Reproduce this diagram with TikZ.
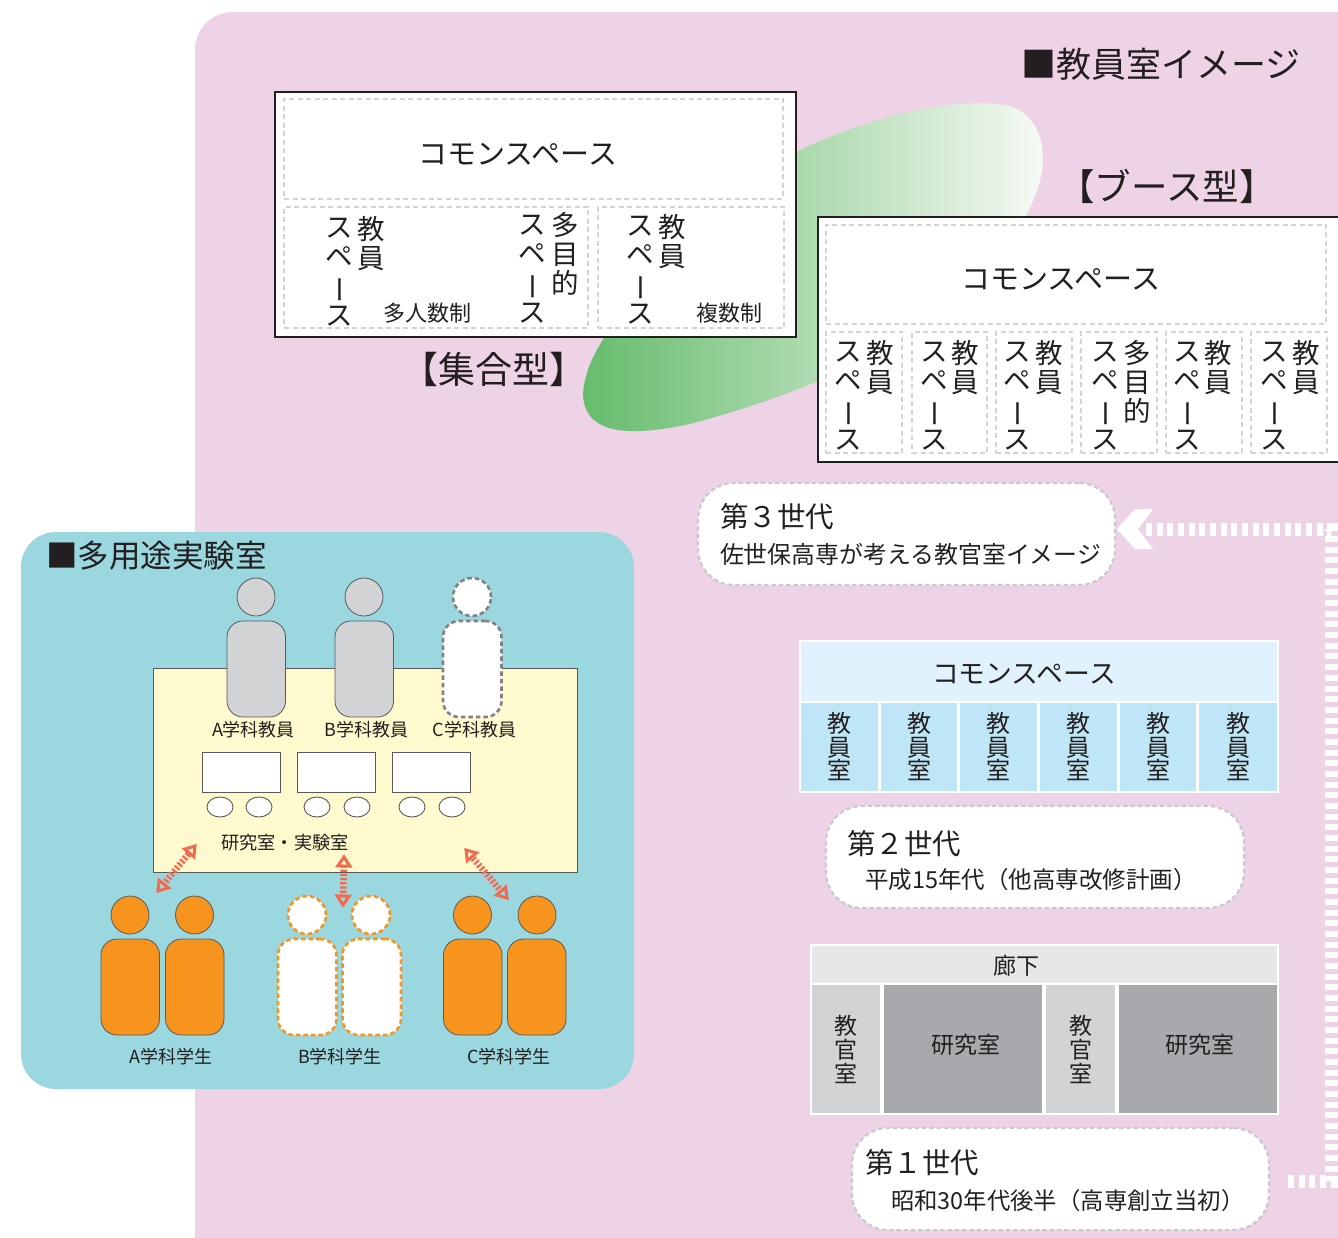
\documentclass[tikz,border=0pt]{standalone}
\usepackage{fontspec}
\usepackage{graphicx}
\usetikzlibrary{calc,shapes.geometric}
\setmainfont{Noto Sans CJK JP}
\newcommand\fz[2]{\fontsize{#1}{#2}\selectfont\lineskiplimit=-100pt\relax}
\newcommand\vbr{\smash{\hspace{.37em}\rotatebox[origin=c]{90}{ー}}}
% box node: name x1 y1 x2 y2 style text
\newcommand\bx[7]{%
  \pgfmathsetmacro\bw{(#4)-(#2)}\pgfmathsetmacro\bh{(#5)-(#3)}%
  \pgfmathsetmacro\bcx{((#2)+(#4))/2}\pgfmathsetmacro\bcy{((#3)+(#5))/2}%
  \node[boxbase,minimum width=\bw pt,minimum height=\bh pt,#6] (#1) at (\bcx,\bcy) {#7};}
\newcommand\person[5]{% name headx heady bodyx1 style
  \node[circle,inner sep=0,outer sep=0,minimum size=38pt,#5] (#1h) at (#2,#3) {};
  \bx{#1b}{#4}{#3+24}{#4+58.5}{#3+120}{rounded corners=16pt,#5}{}}
\newcommand\rtip[2]{%
  \draw[arrowtip] (#1) -- ($($(#1)!9pt!(#2)$)!6pt!90:(#1)$) -- ($($(#1)!9pt!(#2)$)!6pt!-90:(#1)$) -- cycle;}
\tikzset{
  x=1pt,y=-1pt,
  boxbase/.style={inner sep=0,outer sep=0,align=center,text=ink},
  txt/.style={inner sep=0,outer sep=0,text=ink,align=center},
  vt/.style={txt,anchor=north,font=\fz{27.5}{29.3}},
  thick box/.style={draw=ink,line width=2.6pt,fill=white},
  space/.style={draw=dashgray,line width=2.1pt,dash pattern=on 5pt off 3.5pt},
  gen/.style={draw=gendash,line width=2.2pt,dash pattern=on 4.5pt off 2.8pt,fill=white,rounded corners=36pt},
  grayman/.style={draw=personline,line width=.8pt,fill=manfill},
  grayghost/.style={draw=ghostline,line width=2.6pt,dash pattern=on 4.5pt off 3pt,fill=white},
  orangeman/.style={draw=personline,line width=.8pt,fill=orangefill},
  orangeghost/.style={draw=orangefill,line width=2.6pt,dash pattern=on 4.5pt off 3pt,fill=white},
  flowline/.style={draw=white,line width=13pt,dash pattern=on 6pt off 4.67pt},
  redline/.style={draw=redarrow,line width=6.5pt,dash pattern=on 2.2pt off 2pt},
  arrowtip/.style={draw=redarrow,line width=3pt,line join=miter,fill=none},
  desk/.style={draw=personline,line width=.9pt,fill=white},
}
\definecolor{ink}{HTML}{231F20}
\definecolor{pinkbg}{HTML}{EED3E6}
\definecolor{teal}{HTML}{9AD7DF}
\definecolor{cream}{HTML}{FFFACE}
\definecolor{dashgray}{HTML}{D1D3D4}
\definecolor{gendash}{HTML}{C9CACB}
\definecolor{personline}{HTML}{58595B}
\definecolor{manfill}{HTML}{D1D3D4}
\definecolor{ghostline}{HTML}{808285}
\definecolor{orangefill}{HTML}{F7941E}
\definecolor{redarrow}{HTML}{F26A50}
\definecolor{lightblue}{HTML}{E0F3FC}
\definecolor{midblue}{HTML}{BFE6F7}
\definecolor{corr}{HTML}{E6E7E8}
\definecolor{lab}{HTML}{D1D3D4}
\definecolor{res}{HTML}{A7A9AC}
\definecolor{gl}{HTML}{66BC6C}
\definecolor{gr}{HTML}{F8FAF6}
\begin{document}
\begin{tikzpicture}
\useasboundingbox (0,0) rectangle (1338,1238);
\clip (0,0) rectangle (1338,1238);
\fill[white] (0,0) rectangle (1338,1238);
% pink ground
\fill[pinkbg,rounded corners=38pt] (195,12) rectangle (1420,1300);
% green blob
\shade[left color=gl,right color=gr]
  (583,395) .. controls (585,340) and (650,270) .. (800,150)
  .. controls (880,112) and (960,98) .. (1005,105)
  .. controls (1040,112) and (1048,150) .. (1040,180)
  .. controls (1032,215) and (1000,260) .. (960,300)
  .. controls (900,350) and (800,395) .. (690,424)
  .. controls (630,437) and (585,435) .. (583,395) -- cycle;
% title
\node[txt,font=\fz{35}{37}] (title) at (1161,64) {■教員室イメージ};
% gathered type
\bx{gbox}{275}{92}{796}{337}{thick box}{}
\bx{gcommon}{284}{99}{783}{199}{space}{}
\node[txt,font=\fz{29}{30}] (gct) at (518,154) {コモンスペース};
\bx{gleft}{284}{207}{588}{328}{space}{}
\bx{gright}{598}{207}{784}{328}{space}{}
\node[vt] (g1) at (371,216) {教\\員};
\node[vt] (g2) at (339,218) {ス\\ペ\\\vbr\\ス};
\node[vt] (g3) at (565,212) {多\\目\\的};
\node[vt] (g4) at (532,215) {ス\\ペ\\\vbr\\ス};
\node[vt] (g5) at (672,214) {教\\員};
\node[vt] (g6) at (640,216) {ス\\ペ\\\vbr\\ス};
\node[txt,font=\fz{22}{24}] (g7) at (427,313) {多人数制};
\node[txt,font=\fz{22}{24}] (g8) at (729,313) {複数制};
\node[txt,font=\fz{37}{39}] (gname) at (494,369) {【集合型】};
% booth type
\node[txt,font=\fz{36.5}{39}] (bname) at (1167,186) {【ブース型】};
\bx{bbox}{818}{217}{1350}{462}{thick box}{}
\bx{bcommon}{826}{225}{1326}{324}{space}{}
\node[txt,font=\fz{29}{30}] (bct) at (1061,279) {コモンスペース};
\foreach \i/\xa/\xb/\xs in {1/826/902/848,2/912/987/934,3/996/1072/1017,4/1081/1157/1105,5/1166/1242/1187,6/1251/1327/1274}{
  \bx{bc\i}{\xa}{332}{\xb}{453}{space}{}
  \node[vt] (bs\i) at (\xs,342) {ス\\ペ\\\vbr\\ス};
}
\node[vt] (bk1) at (880,340) {教\\員};
\node[vt] (bk2) at (965,340) {教\\員};
\node[vt] (bk3) at (1049,340) {教\\員};
\node[vt] (bk4) at (1137,340) {多\\目\\的};
\node[vt] (bk5) at (1218,340) {教\\員};
\node[vt] (bk6) at (1306,340) {教\\員};
% generation flow
\coordinate (fstart) at (1288,1181.5);
\coordinate (fcorner1) at (1331.5,1181.5);
\coordinate (fcorner2) at (1331.5,529.5);
\coordinate (fend) at (1146,529.5);
\draw[flowline] (fstart) -- (fcorner1) -- (fcorner2) -- (fend);
\fill[white] (1117,529) -- (1135,509) -- (1153,509) -- (1138,529) -- (1153,549) -- (1135,549) -- cycle;
% generation 3
\bx{gen3}{698}{483}{1115}{585}{gen}{}
\node[txt,anchor=west,font=\fz{28.5}{30}] (g3a) at (720,517) {第３世代};
\node[txt,anchor=west,font=\fz{23.9}{26}] (g3b) at (720,554) {佐世保高専が考える教官室イメージ};
% generation 2 plan
\bx{p2}{799}{640}{1279}{793}{fill=white}{}
\bx{p2c}{801}{642}{1277}{701}{fill=lightblue}{}
\node[txt,font=\fz{26.8}{28}] (p2t) at (1024,674) {コモンスペース};
\foreach \i/\xa/\xb in {1/801/878,2/881/957,3/960/1037,4/1040/1117,5/1120/1196,6/1199/1277}{
  \bx{p2r\i}{\xa}{703}{\xb}{791}{fill=midblue,font=\fz{24}{23.5}}{教\\員\\室}
}
% generation 2
\bx{gen2}{826}{806}{1244}{908}{gen}{}
\node[txt,anchor=west,font=\fz{28.5}{30}] (g2a) at (847,844) {第２世代};
\node[txt,anchor=west,font=\fz{23.5}{26}] (g2b) at (865,880) {平成15年代（他高専改修計画）};
% generation 1 plan
\bx{p1}{810}{944}{1279}{1115}{fill=white}{}
\bx{p1c}{812}{946}{1277}{983}{fill=corr}{}
\node[txt,font=\fz{23}{25}] (p1ct) at (1016,966) {廊下};
\bx{p1a}{812}{985}{880}{1113}{fill=lab,font=\fz{23}{24}}{教\\官\\室}
\bx{p1b}{884}{985}{1042}{1113}{fill=res}{}
\node[txt,font=\fz{23}{25}] (p1bt) at (966,1045) {研究室};
\bx{p1d}{1046}{985}{1115}{1113}{fill=lab,font=\fz{23}{24}}{教\\官\\室}
\bx{p1e}{1119}{985}{1277}{1113}{fill=res}{}
\node[txt,font=\fz{23}{25}] (p1et) at (1200,1045) {研究室};
% generation 1
\bx{gen1}{852}{1128}{1269}{1230}{gen}{}
\node[txt,anchor=west,font=\fz{28.5}{30}] (g1a) at (865,1163) {第１世代};
\node[txt,anchor=west,font=\fz{23.4}{26}] (g1b) at (891,1201) {昭和30年代後半（高専創立当初）};
% multipurpose lab
\fill[teal,rounded corners=35pt] (21,532) rectangle (634,1089);
\node[txt,anchor=west,font=\fz{31.5}{33}] (labt) at (46,556) {■多用途実験室};
\bx{room}{153}{668.5}{577.5}{872}{draw=personline,line width=.9pt,fill=cream}{}
\person{ta}{256}{597}{227}{grayman}
\person{tb}{364}{597}{335}{grayman}
\person{tc}{472}{597}{443}{grayghost}
\node[txt,font=\fz{18}{20}] (la) at (253.5,730) {A学科教員};
\node[txt,font=\fz{18}{20}] (lb) at (366.5,730) {B学科教員};
\node[txt,font=\fz{18}{20}] (lc) at (474.5,730) {C学科教員};
\foreach \i/\xa in {1/202,2/297,3/392}{
  \bx{dk\i}{\xa}{752}{\xa+78.5}{792}{desk}{}
}
\foreach \i/\xa in {1/220,2/259,3/317,4/357,5/412,6/452}{
  \node[desk,ellipse,inner sep=0,outer sep=0,minimum width=26pt,minimum height=20pt] (st\i) at (\xa,807) {};
}
\node[txt,font=\fz{18.2}{20}] (lroom) at (285,843) {研究室・実験室};
\person{sa}{130}{915}{101}{orangeman}
\person{sb}{194.5}{915}{165.5}{orangeman}
\person{sc}{307}{915}{278}{orangeghost}
\person{sd}{371}{915}{342.5}{orangeghost}
\person{se}{472.5}{915}{443.5}{orangeman}
\person{sf}{537}{915}{507.5}{orangeman}
\node[txt,font=\fz{18}{20}] (lsa) at (171,1057) {A学科学生};
\node[txt,font=\fz{18}{20}] (lsb) at (340,1057) {B学科学生};
\node[txt,font=\fz{18}{20}] (lsc) at (509,1057) {C学科学生};
% two-way arrows
\coordinate (a1) at (158,891); \coordinate (a2) at (195,846);
\coordinate (b1) at (343,905); \coordinate (b2) at (344,857);
\coordinate (c1) at (507,898); \coordinate (c2) at (466,850);
\foreach \p/\q in {a1/a2,b1/b2,c1/c2}{
  \draw[redline,shorten <=8pt,shorten >=8pt] (\p) -- (\q);
  \rtip{\p}{\q}
  \rtip{\q}{\p}
}
\end{tikzpicture}
\end{document}
